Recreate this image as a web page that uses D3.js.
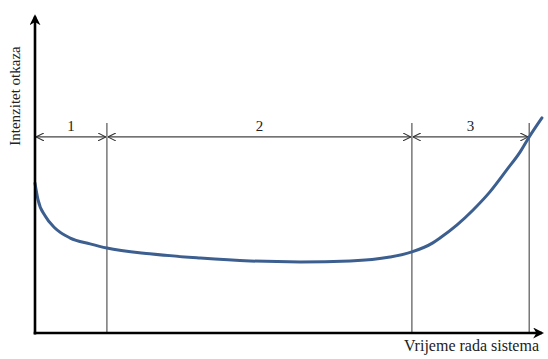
<!DOCTYPE html>
<html><head><meta charset="utf-8">
<script src="https://cdn.jsdelivr.net/npm/d3@7"></script>
<style>body{margin:0;background:#fff}svg{display:block}text{font-family:"Liberation Serif","Times New Roman",serif;fill:#222}</style>
</head><body><svg id="c" width="548" height="359"></svg>
<script>
const time = [0,0.6,2.0,3.9,6.9,10.8,14.1,22.5,32.4,42.2,52.0,61.8,69.6,73.9,78.0,79.4,82.7,85.9,89.2,92.5,95.1,96.9,99.4];
const rate = [46.4,41.2,36.2,32.5,29.4,27.6,26.3,24.5,23.2,22.3,22.0,22.3,23.5,25.1,27.9,29.4,33.4,38.1,43.7,50.5,56.0,60.7,66.6];
const boundaries = [0,14.1,73.9,96.9];
const phaseLabels = ["1","2","3"];
const arrowLevel = 60.7;
const xTitle = "Vrijeme rada sistema";
const yTitle = "Intenzitet otkaza";

const svg = d3.select("#c");
const x = d3.scaleLinear().domain([0,100]).range([35,545]);
const y = d3.scaleLinear().domain([0,100]).range([333,10]);

const defs = svg.append("defs");
defs.append("marker").attr("id","open").attr("viewBox","0 0 10 10").attr("refX",10).attr("refY",5)
 .attr("markerWidth",8).attr("markerHeight",8).attr("markerUnits","userSpaceOnUse").attr("orient","auto-start-reverse")
 .append("path").attr("d","M0,0L10,5L0,10").attr("fill","none").attr("stroke","#333").attr("stroke-width",1.3);
defs.append("marker").attr("id","solid").attr("viewBox","0 0 10 10").attr("refX",8).attr("refY",5)
 .attr("markerWidth",11).attr("markerHeight",11).attr("markerUnits","userSpaceOnUse").attr("orient","auto")
 .append("path").attr("d","M0,0L10,5L0,10L3,5Z").attr("fill","#000");

svg.selectAll("line.v").data(boundaries.slice(1)).join("line").attr("class","v")
 .attr("x1",d=>x(d)).attr("x2",d=>x(d)).attr("y1",y(arrowLevel)-14).attr("y2",y(0))
 .attr("stroke","#555").attr("stroke-width",1.2);

const segs = d3.range(phaseLabels.length).map(i=>({a:boundaries[i],b:boundaries[i+1],l:phaseLabels[i]}));
svg.selectAll("line.d").data(segs).join("line").attr("class","d")
 .attr("x1",d=>x(d.a)+1).attr("x2",d=>x(d.b)-1).attr("y1",y(arrowLevel)).attr("y2",y(arrowLevel))
 .attr("stroke","#444").attr("stroke-width",1.2)
 .attr("marker-start","url(#open)").attr("marker-end","url(#open)");
svg.selectAll("text.p").data(segs).join("text").attr("class","p")
 .attr("x",d=>x((d.a+d.b)/2)).attr("y",y(arrowLevel)-6).attr("text-anchor","middle")
 .attr("font-size",15).text(d=>d.l);

const pts = time.map((t,i)=>[t,rate[i]]);
svg.append("path").datum(pts).attr("fill","none").attr("stroke","#3c5f8f").attr("stroke-width",3)
 .attr("stroke-linecap","round")
 .attr("d",d3.line().x(d=>x(d[0])).y(d=>y(d[1])).curve(d3.curveMonotoneX));

svg.append("line").attr("x1",x(0)).attr("x2",x(0)).attr("y1",y(0)+1.5).attr("y2",y(98))
 .attr("stroke","#000").attr("stroke-width",2.6).attr("marker-end","url(#solid)");
svg.append("line").attr("x1",x(0)-1.3).attr("x2",x(99.4)).attr("y1",y(0)).attr("y2",y(0))
 .attr("stroke","#000").attr("stroke-width",2.6).attr("marker-end","url(#solid)");

svg.append("text").attr("x",539).attr("y",351).attr("text-anchor","end").attr("font-size",16).text(xTitle);
svg.append("text").attr("transform","translate(20,96) rotate(-90)").attr("text-anchor","middle").attr("font-size",15).text(yTitle);
</script></body></html>
